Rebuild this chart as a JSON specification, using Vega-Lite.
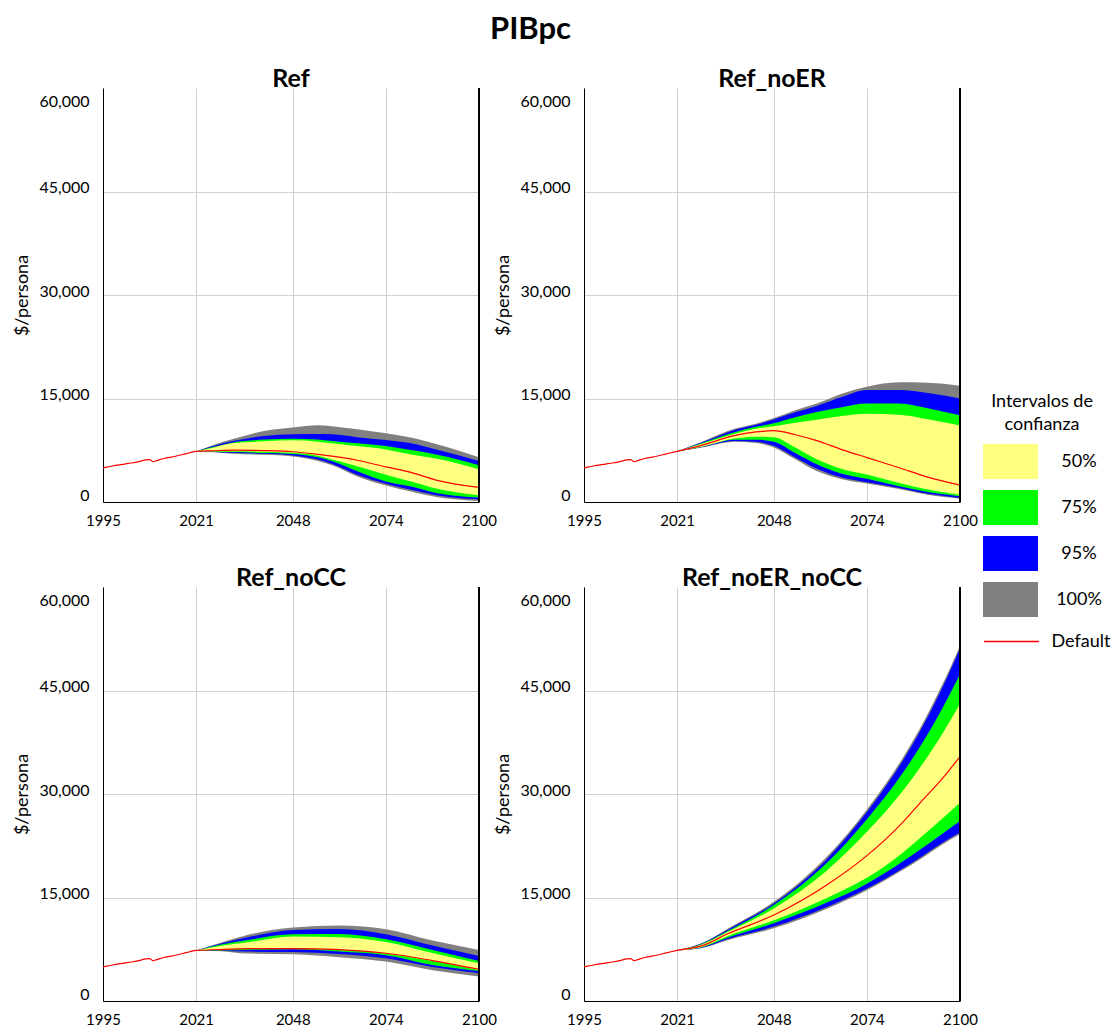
{
  "$schema": "https://vega.github.io/schema/vega-lite/v6.json",
  "padding": {"left": 13, "top": 13, "right": 5, "bottom": 5},
  "config": {"font": "Lato", "view": {"stroke": null}},
  "title": {"text": "PIBpc", "fontSize": 31, "fontWeight": "bold", "anchor": "middle", "offset": 21, "dx": -32},
  "data": {"values": [
    {"p":"Ref","t":1995,"d":4950},{"p":"Ref","t":1997,"d":5150},{"p":"Ref","t":1999,"d":5350},{"p":"Ref","t":2001,"d":5500},{"p":"Ref","t":2003,"d":5650},{"p":"Ref","t":2005,"d":5850},{"p":"Ref","t":2007,"d":6100},{"p":"Ref","t":2008,"d":6150},{"p":"Ref","t":2009,"d":5850},{"p":"Ref","t":2010,"d":6000},{"p":"Ref","t":2012,"d":6300},{"p":"Ref","t":2014,"d":6500},{"p":"Ref","t":2017,"d":6850},{"p":"Ref","t":2019,"d":7100},
    {"p":"Ref","t":2021,"g0":7330,"b0":7330,"n0":7330,"y0":7330,"y1":7330,"n1":7330,"b1":7330,"g1":7330,"d":7330},
    {"p":"Ref","t":2026,"g0":7200,"b0":7260,"n0":7300,"y0":7340,"y1":7900,"n1":8000,"b1":8150,"g1":8300,"d":7430},
    {"p":"Ref","t":2031,"g0":6990,"b0":7130,"n0":7250,"y0":7370,"y1":8500,"n1":8600,"b1":8800,"g1":9080,"d":7520},
    {"p":"Ref","t":2040,"g0":6840,"b0":6980,"n0":7100,"y0":7280,"y1":8790,"n1":9040,"b1":9570,"g1":10300,"d":7450},
    {"p":"Ref","t":2048,"g0":6600,"b0":6750,"n0":6970,"y0":7120,"y1":8940,"n1":9180,"b1":9820,"g1":10800,"d":7280},
    {"p":"Ref","t":2055,"g0":5950,"b0":6150,"n0":6480,"y0":6700,"y1":8750,"n1":9050,"b1":9850,"g1":11130,"d":6900},
    {"p":"Ref","t":2059,"g0":5320,"b0":5520,"n0":5900,"y0":6150,"y1":8500,"n1":8840,"b1":9820,"g1":10990,"d":6640},
    {"p":"Ref","t":2066,"g0":3710,"b0":3960,"n0":4440,"y0":5170,"y1":8100,"n1":8500,"b1":9400,"g1":10550,"d":6050},
    {"p":"Ref","t":2074,"g0":2390,"b0":2640,"n0":2970,"y0":3960,"y1":7620,"n1":8100,"b1":8980,"g1":9960,"d":5080},
    {"p":"Ref","t":2081,"g0":1510,"b0":1760,"n0":2240,"y0":2970,"y1":6890,"n1":7520,"b1":8500,"g1":9330,"d":4290},
    {"p":"Ref","t":2088,"g0":730,"b0":980,"n0":1320,"y0":1960,"y1":6300,"n1":6900,"b1":7600,"g1":8400,"d":3180},
    {"p":"Ref","t":2100,"g0":150,"b0":350,"n0":640,"y0":980,"y1":4750,"n1":5330,"b1":5960,"g1":6500,"d":2110},

    {"p":"Ref_noER","t":1995,"d":4950},{"p":"Ref_noER","t":1997,"d":5150},{"p":"Ref_noER","t":1999,"d":5350},{"p":"Ref_noER","t":2001,"d":5500},{"p":"Ref_noER","t":2003,"d":5650},{"p":"Ref_noER","t":2005,"d":5850},{"p":"Ref_noER","t":2007,"d":6100},{"p":"Ref_noER","t":2008,"d":6150},{"p":"Ref_noER","t":2009,"d":5850},{"p":"Ref_noER","t":2010,"d":6000},{"p":"Ref_noER","t":2012,"d":6300},{"p":"Ref_noER","t":2014,"d":6500},{"p":"Ref_noER","t":2017,"d":6850},{"p":"Ref_noER","t":2019,"d":7100},
    {"p":"Ref_noER","t":2021,"g0":7330,"b0":7330,"n0":7330,"y0":7330,"y1":7330,"n1":7330,"b1":7330,"g1":7330,"d":7330},
    {"p":"Ref_noER","t":2028,"g0":7910,"b0":7960,"n0":8010,"y0":8060,"y1":8450,"n1":8550,"b1":8650,"g1":8740,"d":8250},
    {"p":"Ref_noER","t":2037,"g0":8740,"b0":8840,"n0":9030,"y0":9220,"y1":9870,"n1":10100,"b1":10450,"g1":10600,"d":9620},
    {"p":"Ref_noER","t":2043,"g0":8550,"b0":8740,"n0":9030,"y0":9470,"y1":10600,"n1":10900,"b1":11180,"g1":11350,"d":10150},
    {"p":"Ref_noER","t":2048,"g0":7900,"b0":8150,"n0":8750,"y0":9400,"y1":10980,"n1":11420,"b1":11970,"g1":12160,"d":10350},
    {"p":"Ref_noER","t":2054,"g0":6200,"b0":6450,"n0":7100,"y0":7900,"y1":11500,"n1":12300,"b1":13000,"g1":13300,"d":9750},
    {"p":"Ref_noER","t":2060,"g0":4490,"b0":4820,"n0":5460,"y0":6200,"y1":11920,"n1":13040,"b1":13920,"g1":14270,"d":8890},
    {"p":"Ref_noER","t":2067,"g0":3300,"b0":3550,"n0":4100,"y0":4800,"y1":12450,"n1":13750,"b1":15200,"g1":15700,"d":7600},
    {"p":"Ref_noER","t":2074,"g0":2680,"b0":2870,"n0":3360,"y0":4000,"y1":12800,"n1":14270,"b1":16220,"g1":16700,"d":6440},
    {"p":"Ref_noER","t":2083,"g0":1890,"b0":2040,"n0":2300,"y0":2770,"y1":12650,"n1":14270,"b1":16220,"g1":17350,"d":4970},
    {"p":"Ref_noER","t":2091,"g0":1050,"b0":1200,"n0":1450,"y0":1800,"y1":12000,"n1":13600,"b1":15800,"g1":17300,"d":3600},
    {"p":"Ref_noER","t":2100,"g0":480,"b0":590,"n0":840,"y0":1050,"y1":11100,"n1":12560,"b1":15000,"g1":16860,"d":2450},

    {"p":"Ref_noCC","t":1995,"d":4950},{"p":"Ref_noCC","t":1997,"d":5150},{"p":"Ref_noCC","t":1999,"d":5350},{"p":"Ref_noCC","t":2001,"d":5500},{"p":"Ref_noCC","t":2003,"d":5650},{"p":"Ref_noCC","t":2005,"d":5850},{"p":"Ref_noCC","t":2007,"d":6100},{"p":"Ref_noCC","t":2008,"d":6150},{"p":"Ref_noCC","t":2009,"d":5850},{"p":"Ref_noCC","t":2010,"d":6000},{"p":"Ref_noCC","t":2012,"d":6300},{"p":"Ref_noCC","t":2014,"d":6500},{"p":"Ref_noCC","t":2017,"d":6850},{"p":"Ref_noCC","t":2019,"d":7100},
    {"p":"Ref_noCC","t":2021,"g0":7330,"b0":7330,"n0":7330,"y0":7330,"y1":7330,"n1":7330,"b1":7330,"g1":7330,"d":7330},
    {"p":"Ref_noCC","t":2028,"g0":7220,"b0":7280,"n0":7330,"y0":7420,"y1":7990,"n1":8180,"b1":8330,"g1":8470,"d":7460},
    {"p":"Ref_noCC","t":2035,"g0":6870,"b0":7170,"n0":7390,"y0":7600,"y1":8470,"n1":8800,"b1":9190,"g1":9530,"d":7600},
    {"p":"Ref_noCC","t":2048,"g0":6770,"b0":7100,"n0":7500,"y0":7620,"y1":9340,"n1":9670,"b1":10300,"g1":10640,"d":7600},
    {"p":"Ref_noCC","t":2061,"g0":6340,"b0":6820,"n0":7160,"y0":7400,"y1":9240,"n1":9720,"b1":10440,"g1":10930,"d":7450},
    {"p":"Ref_noCC","t":2074,"g0":5710,"b0":6190,"n0":6630,"y0":6900,"y1":8560,"n1":8950,"b1":9670,"g1":10400,"d":6920},
    {"p":"Ref_noCC","t":2087,"g0":4450,"b0":4930,"n0":5220,"y0":5800,"y1":6960,"n1":7400,"b1":8030,"g1":8760,"d":5860},
    {"p":"Ref_noCC","t":2100,"g0":3540,"b0":4020,"n0":4350,"y0":4500,"y1":5470,"n1":5800,"b1":6530,"g1":7400,"d":4600},

    {"p":"Ref_noER_noCC","t":1995,"d":4950},{"p":"Ref_noER_noCC","t":1997,"d":5150},{"p":"Ref_noER_noCC","t":1999,"d":5350},{"p":"Ref_noER_noCC","t":2001,"d":5500},{"p":"Ref_noER_noCC","t":2003,"d":5650},{"p":"Ref_noER_noCC","t":2005,"d":5850},{"p":"Ref_noER_noCC","t":2007,"d":6100},{"p":"Ref_noER_noCC","t":2008,"d":6150},{"p":"Ref_noER_noCC","t":2009,"d":5850},{"p":"Ref_noER_noCC","t":2010,"d":6000},{"p":"Ref_noER_noCC","t":2012,"d":6300},{"p":"Ref_noER_noCC","t":2014,"d":6500},{"p":"Ref_noER_noCC","t":2017,"d":6850},{"p":"Ref_noER_noCC","t":2019,"d":7100},
    {"p":"Ref_noER_noCC","t":2021,"g0":7330,"b0":7330,"n0":7330,"y0":7330,"y1":7330,"n1":7330,"b1":7330,"g1":7330,"d":7330},
    {"p":"Ref_noER_noCC","t":2028,"g0":7680,"b0":7720,"n0":7790,"y0":7870,"y1":8200,"n1":8290,"b1":8360,"g1":8420,"d":8020},
    {"p":"Ref_noER_noCC","t":2035,"g0":8800,"b0":8950,"n0":9150,"y0":9400,"y1":9950,"n1":10100,"b1":10300,"g1":10450,"d":9700},
    {"p":"Ref_noER_noCC","t":2048,"g0":10530,"b0":10780,"n0":11270,"y0":11700,"y1":13420,"n1":13900,"b1":14130,"g1":14370,"d":12460},
    {"p":"Ref_noER_noCC","t":2063,"g0":13400,"b0":13650,"n0":14300,"y0":14980,"y1":19000,"n1":20100,"b1":20660,"g1":21000,"d":16900},
    {"p":"Ref_noER_noCC","t":2074,"g0":16050,"b0":16290,"n0":17010,"y0":17850,"y1":24520,"n1":26340,"b1":27390,"g1":27760,"d":21070},
    {"p":"Ref_noER_noCC","t":2084,"g0":18970,"b0":19210,"n0":20200,"y0":21500,"y1":30450,"n1":33030,"b1":34800,"g1":35220,"d":25900},
    {"p":"Ref_noER_noCC","t":2089,"g0":20580,"b0":20820,"n0":22000,"y0":23700,"y1":33960,"n1":36980,"b1":39250,"g1":39670,"d":28800},
    {"p":"Ref_noER_noCC","t":2095,"g0":22660,"b0":22900,"n0":24200,"y0":26400,"y1":38670,"n1":42350,"b1":45330,"g1":45780,"d":32200},
    {"p":"Ref_noER_noCC","t":2100,"g0":24180,"b0":24420,"n0":26100,"y0":28720,"y1":43080,"n1":47400,"b1":51100,"g1":51460,"d":35420}
  ]},
  "facet": {"field": "p", "type": "nominal", "sort": ["Ref", "Ref_noER", "Ref_noCC", "Ref_noER_noCC"],
    "header": {"title": null, "labelFontSize": 25, "labelFontWeight": "bold", "labelPadding": -4, "labelColor": "black"}},
  "columns": 2,
  "spacing": {"row": 37, "column": -3},
  "resolve": {"axis": {"x": "independent", "y": "independent"}},
  "spec": {
    "width": 376,
    "height": 414,
    "encoding": {
      "x": {"field": "t", "type": "quantitative", "scale": {"domain": [1995, 2100], "nice": false, "zero": false},
        "axis": {"title": null, "values": [1995, 2021, 2048, 2074, 2100], "format": "d", "labelFontSize": 15, "labelPadding": 11, "labelFlush": false, "labelOverlap": false, "ticks": false, "domainColor": "black", "gridColor": "#d0d0d0", "labelColor": "black"}}
    },
    "layer": [
      {"transform": [{"filter": "isValid(datum.g0)"}], "mark": {"type": "area", "interpolate": "monotone"},
        "encoding": {
          "y": {"field": "g0", "type": "quantitative", "scale": {"domain": [0, 60000], "nice": false},
            "axis": {"title": "$/persona", "titleFontSize": 18, "titleFontWeight": "normal", "titlePadding": 7, "values": [0, 15000, 30000, 45000, 60000], "format": ",.0f", "labelFontSize": 16, "labelPadding": 14,
              "labelOffset": {"condition": [{"test": "datum.value === 60000", "value": 13}, {"test": "datum.value === 0", "value": -7}], "value": -4},
              "ticks": false, "domainColor": "black", "gridColor": {"condition": {"test": "datum.value === 60000", "value": "transparent"}, "value": "#d0d0d0"}, "labelColor": "black", "titleColor": "black"}},
          "y2": {"field": "g1"},
          "color": {"datum": "100%", "type": "nominal",
            "scale": {"domain": ["50%", "75%", "95%", "100%"], "range": ["#ffff80", "#00ff00", "#0000ff", "#808080"]},
            "legend": {"title": ["Intervalos de", "confianza"], "orient": "none", "legendX": 880, "legendY": 305, "titleFontSize": 18, "titleFontWeight": "normal", "titleAlign": "center", "titleAnchor": "middle", "titleLineHeight": 23, "titlePadding": 0, "titleColor": "black",
              "symbolType": "M-1,-0.64H1V0.64H-1Z", "symbolSize": 3025, "symbolStrokeWidth": 0, "symbolOpacity": 1, "labelFontSize": 18, "labelAlign": "center", "labelOffset": 41, "rowPadding": 0, "labelColor": "black"}}
        }},
      {"transform": [{"filter": "isValid(datum.b0)"}], "mark": {"type": "area", "interpolate": "monotone"},
        "encoding": {"y": {"field": "b0", "type": "quantitative"}, "y2": {"field": "b1"}, "color": {"datum": "95%", "type": "nominal"}}},
      {"transform": [{"filter": "isValid(datum.n0)"}], "mark": {"type": "area", "interpolate": "monotone"},
        "encoding": {"y": {"field": "n0", "type": "quantitative"}, "y2": {"field": "n1"}, "color": {"datum": "75%", "type": "nominal"}}},
      {"transform": [{"filter": "isValid(datum.y0)"}], "mark": {"type": "area", "interpolate": "monotone"},
        "encoding": {"y": {"field": "y0", "type": "quantitative"}, "y2": {"field": "y1"}, "color": {"datum": "50%", "type": "nominal"}}},
      {"mark": {"type": "line", "interpolate": "monotone", "strokeWidth": 1.2},
        "encoding": {"y": {"field": "d", "type": "quantitative"},
          "stroke": {"datum": "Default", "type": "nominal", "scale": {"domain": ["Default"], "range": ["#ff0000"]},
            "legend": {"title": null, "orient": "none", "legendX": 880, "legendY": 525, "symbolType": "stroke", "symbolSize": 3025, "symbolStrokeWidth": 1.5, "labelFontSize": 18, "labelAlign": "center", "labelOffset": 41, "labelColor": "black"}}}},
      {"mark": {"type": "rule", "color": "black", "strokeWidth": 1}, "encoding": {"x": {"datum": 2100}}}
    ]
  }
}
